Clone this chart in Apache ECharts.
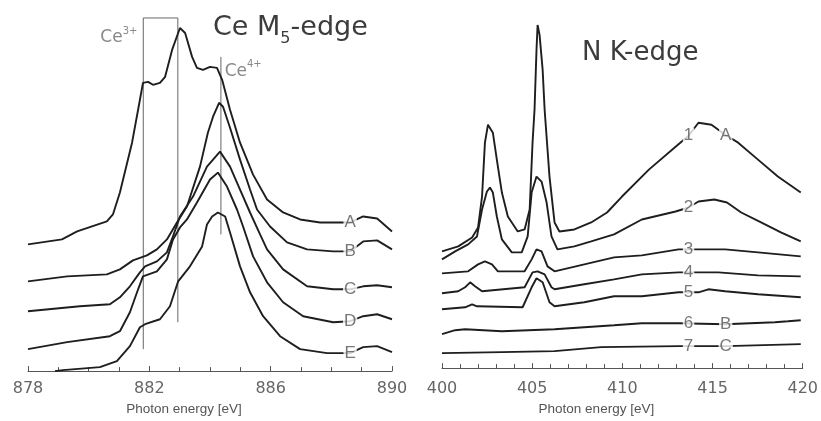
<!DOCTYPE html>
<html><head><meta charset="utf-8">
<script src="https://cdn.jsdelivr.net/npm/echarts@6/dist/echarts.min.js"></script>
<style>html,body{margin:0;padding:0;background:#fff}#c{width:821px;height:421px}</style>
</head><body><div id="c"></div>
<script>
// ---------- Ce M5-edge (left panel), intensity in arbitrary offset units ----------
const ceA = [[878.00,12.7],[879.12,13.2],[879.62,14.0],[880.60,15.0],[880.80,15.7],[881.03,17.9],[881.43,22.9],[881.69,27.2],[881.79,28.9],[881.96,29.0],[882.12,28.7],[882.35,28.9],[882.52,29.5],[882.75,32.2],[883.01,34.4],[883.18,33.9],[883.41,31.5],[883.57,30.4],[883.77,30.2],[884.00,30.5],[884.23,30.4],[884.40,29.2],[884.66,26.2],[884.99,22.9],[885.42,19.7],[885.88,17.2],[886.41,15.9],[886.97,15.2],[887.63,14.9],[888.29,14.9],[888.62,14.9],[889.05,15.5],[889.28,15.4],[889.51,15.3],[890.00,14.0]];
const ceB = [[878.00,9.0],[879.29,9.5],[880.60,9.7],[881.03,10.2],[881.46,11.1],[881.92,11.6],[882.25,12.2],[882.58,13.2],[882.91,14.9],[883.24,16.5],[883.67,20.5],[883.93,23.9],[884.10,25.5],[884.30,26.9],[884.43,26.5],[884.66,24.4],[884.99,21.2],[885.32,18.2],[885.55,16.2],[885.98,14.5],[886.54,12.9],[887.20,12.2],[888.06,12.0],[888.62,12.0],[889.05,13.0],[889.51,13.1],[890.00,12.2]];
const ceC = [[878.00,6.0],[879.71,6.5],[880.70,6.7],[881.03,7.4],[881.36,8.5],[881.69,9.9],[881.86,10.5],[882.25,11.0],[882.58,11.9],[882.78,13.5],[883.01,15.5],[883.44,17.5],[883.90,20.5],[884.33,22.0],[884.66,20.5],[884.99,18.2],[885.32,15.9],[885.65,13.7],[885.88,12.2],[886.41,10.2],[887.20,8.5],[888.06,8.2],[888.62,8.2],[889.05,8.5],[889.51,8.6],[890.00,8.4]];
const ceD = [[878.00,2.2],[879.29,2.9],[880.70,3.5],[881.03,4.0],[881.36,5.9],[881.63,8.2],[881.79,9.5],[882.25,10.0],[882.58,11.2],[882.78,13.2],[883.01,14.4],[883.24,15.2],[883.57,16.9],[884.00,19.2],[884.26,19.9],[884.56,18.5],[884.89,16.2],[885.09,14.5],[885.42,11.5],[885.88,8.9],[886.41,6.9],[887.07,5.5],[888.06,4.9],[888.62,5.0],[889.05,5.5],[889.51,5.7],[890.00,5.2]];
const ceE = [[878.89,0.0],[879.15,0.1],[880.37,0.4],[880.93,1.0],[881.36,2.5],[881.69,4.4],[881.86,4.7],[882.35,5.2],[882.68,6.5],[882.95,9.0],[883.34,10.5],[883.74,12.5],[883.90,14.7],[884.07,15.5],[884.26,15.9],[884.50,15.5],[884.66,13.9],[884.99,10.5],[885.32,7.9],[885.75,5.5],[886.31,3.5],[886.97,2.2],[887.86,1.8],[888.62,1.8],[889.05,2.4],[889.51,2.5],[890.00,1.9]];
const ceCurveNames = ['A','B','C','D','E'];
const ceLabelEnergy = 888.62;
// Ce3+ / Ce4+ marker lines
const ce3Box = [[881.80,2.2],[881.80,35.4],[882.94,35.4],[882.94,4.9]];
const ce4Line = [[884.36,13.7],[884.36,31.5]];
const ce3Text = [881.69,33.4];
const ce4Text = [884.40,30.0];
const ceTicks = {min:878, max:890, step:4};

// ---------- N K-edge (right panel) ----------
const nk1 = [[400.00,11.7],[400.90,12.2],[401.67,13.1],[402.00,14.1],[402.22,17.2],[402.38,22.6],[402.55,24.4],[402.82,23.6],[403.04,20.9],[403.32,17.6],[403.65,15.2],[404.20,13.7],[404.58,13.9],[404.86,15.9],[405.02,22.6],[405.13,25.9],[405.24,31.9],[405.30,34.4],[405.41,33.4],[405.58,29.9],[405.69,25.9],[405.96,19.2],[406.24,14.6],[406.51,13.7],[407.34,13.9],[408.27,14.6],[409.15,15.6],[409.98,17.2],[411.47,19.9],[412.95,22.2],[413.67,23.3],[414.22,24.6],[414.94,24.4],[415.70,23.4],[416.42,22.6],[417.52,20.9],[418.62,19.2],[419.89,17.6]];
const nk2 = [[400.00,10.9],[400.73,11.7],[401.45,12.4],[401.94,13.2],[402.22,15.9],[402.49,17.7],[402.66,18.1],[402.82,17.6],[403.04,15.2],[403.32,12.9],[403.87,11.6],[404.42,11.6],[404.75,13.2],[404.97,17.6],[405.24,19.2],[405.52,18.7],[405.80,16.6],[406.07,13.2],[406.40,11.9],[407.34,12.2],[408.27,12.7],[409.54,13.4],[411.08,14.9],[412.95,15.7],[413.67,16.1],[414.22,16.7],[415.10,16.9],[415.80,16.6],[416.59,15.6],[417.69,14.6],[418.79,13.6],[419.89,12.7]];
const nk3 = [[400.00,9.5],[401.45,9.7],[402.00,10.4],[402.38,10.7],[402.77,10.4],[403.10,9.7],[404.58,9.7],[404.97,10.9],[405.24,11.9],[405.52,11.7],[405.85,10.2],[406.24,9.7],[407.89,10.4],[409.54,11.1],[411.08,11.3],[413.12,11.9],[414.22,11.9],[415.70,11.9],[417.52,11.6],[419.89,11.2]];
const nk4 = [[400.00,7.5],[400.90,7.7],[401.28,8.1],[401.56,8.6],[401.83,8.2],[402.22,7.7],[404.58,8.1],[405.02,9.6],[405.30,9.7],[405.69,9.4],[406.07,8.1],[406.24,7.9],[407.89,8.4],[409.54,8.9],[411.08,9.4],[413.12,9.6],[415.32,9.6],[417.52,9.3],[419.89,9.2]];
const nk5 = [[400.00,5.9],[401.28,6.1],[401.67,6.4],[401.94,6.2],[404.47,6.1],[404.97,8.1],[405.24,9.0],[405.58,8.6],[405.96,6.6],[406.24,6.2],[407.89,6.6],[409.54,7.2],[411.08,7.2],[413.12,7.6],[414.22,7.6],[414.77,7.9],[415.70,7.7],[417.52,7.4],[419.89,7.1]];
const nk6 = [[400.00,3.4],[400.73,3.8],[401.28,3.9],[403.32,3.7],[406.24,3.9],[409.54,4.3],[411.08,4.5],[413.12,4.5],[415.70,4.4],[418.46,4.6],[419.18,4.7],[419.89,4.8]];
const nk7 = [[400.00,1.5],[403.32,1.6],[406.24,1.7],[408.82,2.1],[413.12,2.2],[415.76,2.2],[419.89,2.4]];
const nkCurveNames = ['1','2','3','4','5','6','7'];
const nkSampleNames = ['A','','','','','B','C'];
const nkLabelEnergy = 413.67;
const nkSampleEnergy = 415.73;
const nkTicks = {min:400, max:420, step:5};

const axisTitle = 'Photon energy [eV]';

// ---------- helpers ----------
function interp(curve, x){
  for (let i=0;i<curve.length-1;i++){
    const [x0,y0]=curve[i],[x1,y1]=curve[i+1];
    if (x>=x0 && x<=x1){ return y0+(y1-y0)*(x-x0)/(x1-x0); }
  }
  return curve[curve.length-1][1];
}
const LINE_COLOR = '#1e1e1e';
const TXT = '#555';
function curveSeries(data, idx){
  return {type:'line', xAxisIndex:idx, yAxisIndex:idx, data:data, showSymbol:false, smooth:false,
    lineStyle:{color:LINE_COLOR, width:1.9}, z:3, silent:true};
}
function labelSeries(items, idx){
  return {type:'scatter', xAxisIndex:idx, yAxisIndex:idx, symbolSize:1, z:6, silent:true,
    itemStyle:{color:'rgba(0,0,0,0)'},
    label:{show:true, position:'inside', formatter:p=>p.name, fontFamily:'Liberation Sans', fontSize:17,
      color:TXT, backgroundColor:'#fff', padding:[0,1], lineHeight:16},
    data:items};
}
const ceCurves = [ceA,ceB,ceC,ceD,ceE];
const nkCurves = [nk1,nk2,nk3,nk4,nk5,nk6,nk7];

const ceLabelItems = ceCurves.map((c,i)=>({name:ceCurveNames[i], value:[ceLabelEnergy, interp(c,ceLabelEnergy)]}));
const nkLabelItems = nkCurves.map((c,i)=>({name:nkCurveNames[i], value:[nkLabelEnergy, interp(c,nkLabelEnergy)]}));
nkCurves.forEach((c,i)=>{ if(nkSampleNames[i]) nkLabelItems.push({name:nkSampleNames[i], value:[nkSampleEnergy, interp(c,nkSampleEnergy)]}); });

function xAxisCfg(idx, t, gap, pad){
  return {type:'value', gridIndex:idx, min:t.min, max:t.max, interval:t.step,
    axisLine:{lineStyle:{color:'#555', width:1}},
    axisTick:{show:true, inside:true, length:5, lineStyle:{color:'#555'}},
    minorTick:{show:true, splitNumber:t.step, length:4, lineStyle:{color:'#555'}},
    splitLine:{show:false}, minorSplitLine:{show:false},
    axisLabel:{fontFamily:'DejaVu Sans', fontSize:16, color:'#666', margin:gap},
    name:axisTitle, nameLocation:'middle', nameGap:pad,
    nameTextStyle:{fontFamily:'Liberation Sans', fontSize:13.5, color:'#555', padding:[0,52,0,0]}};
}

const chart = echarts.init(document.getElementById('c'), null, {renderer:'canvas'});
chart.setOption({
  animation:false,
  backgroundColor:'#fff',
  title:[
    {left:213, top:8, padding:0, text:'{a|Ce M}{s|5}{a|-edge}',
      textStyle:{fontWeight:'normal', rich:{
        a:{fontFamily:'DejaVu Sans', fontSize:27, fontWeight:'normal', color:'#3c3c3c', lineHeight:40},
        s:{fontFamily:'DejaVu Sans', fontSize:16, fontWeight:'normal', color:'#3c3c3c', lineHeight:16, verticalAlign:'top', padding:[23,0,0,0]}}}},
    {left:582, top:33, padding:0, text:'N K-edge',
      textStyle:{fontFamily:'DejaVu Sans', fontSize:26, fontWeight:'normal', color:'#3c3c3c', lineHeight:40}}
  ],
  grid:[{left:28, right:429, top:10, bottom:49}, {left:442, right:16, top:10, bottom:52}],
  xAxis:[xAxisCfg(0, ceTicks, 10, 28), xAxisCfg(1, nkTicks, 13, 31)],
  yAxis:[{type:'value', gridIndex:0, min:0, max:36.2, show:false},
         {type:'value', gridIndex:1, min:0, max:35.9, show:false}],
  series:[
    {type:'line', xAxisIndex:0, yAxisIndex:0, data:ce3Box, showSymbol:false, lineStyle:{color:'#666', width:1}, z:2, silent:true},
    {type:'line', xAxisIndex:0, yAxisIndex:0, data:ce4Line, showSymbol:false, lineStyle:{color:'#666', width:1}, z:2, silent:true},
    ...ceCurves.map(c=>curveSeries(c,0)),
    ...nkCurves.map(c=>curveSeries(c,1)),
    labelSeries(ceLabelItems,0),
    labelSeries(nkLabelItems,1),
    {type:'scatter', xAxisIndex:0, yAxisIndex:0, symbolSize:1, z:6, silent:true, itemStyle:{color:'rgba(0,0,0,0)'},
      data:[
        {name:'Ce3+', value:ce3Text, label:{show:true, position:'left', distance:2, formatter:'{c|Ce}{p|3+}'}},
        {name:'Ce4+', value:ce4Text, label:{show:true, position:'right', distance:2, formatter:'{c|Ce}{p|4+}'}}
      ],
      label:{rich:{
        c:{fontFamily:'DejaVu Sans', fontSize:17, color:'#6a6a6a', lineHeight:24},
        p:{fontFamily:'DejaVu Sans', fontSize:10, color:'#6a6a6a', lineHeight:12, verticalAlign:'top'}}}}
  ]
});
</script></body></html>
